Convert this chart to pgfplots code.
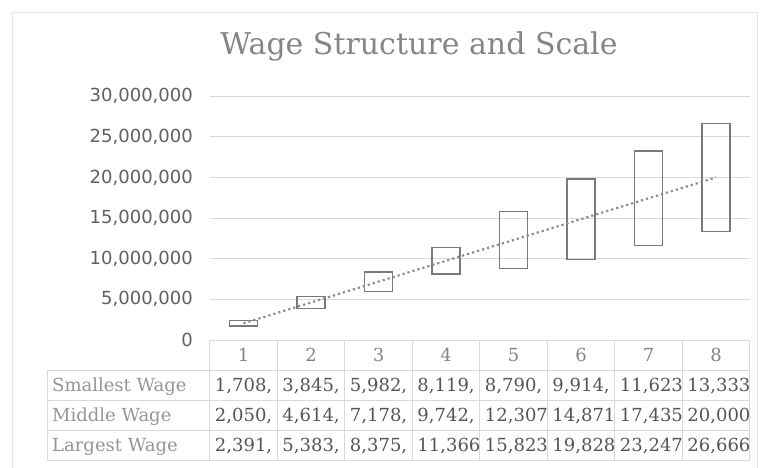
\documentclass[border=0pt]{standalone}
\usepackage{fontspec}
\setmainfont{DejaVu Serif}
\newfontfamily\ticksans{DejaVu Sans}
\usepackage{pgfplots}
\pgfplotsset{compat=1.18}
\usepgfplotslibrary{statistics}
\definecolor{gridgray}{HTML}{D9D9D9}
\definecolor{bargray}{HTML}{7A7A7A}
\definecolor{linegray}{HTML}{8C8C8C}
\definecolor{titlegray}{HTML}{858585}
\definecolor{ticktext}{HTML}{606060}
\definecolor{labelgray}{HTML}{959595}
\definecolor{valgray}{HTML}{555555}
\definecolor{bordergray}{HTML}{E6E6E6}
\begin{document}
\begin{tikzpicture}
% outer chart border
\draw[bordergray, line width=0.8pt] (12pt,0pt) -- (12pt,456pt) -- (757pt,456pt) -- (757pt,0pt);
% title
\node[anchor=base, inner sep=0pt, text=titlegray, font=\fontsize{30}{34}\selectfont] at (419pt,413pt) {Wage Structure and Scale};
% values in millions
\begin{axis}[
  at={(209.75pt,128pt)}, anchor=south west,
  scale only axis, width=540pt, height=243.8pt,
  xmin=0.5, xmax=8.5, ymin=0, ymax=30,
  xtick=\empty,
  ytick={0,5,10,15,20,25,30},
  yticklabels={{0},{5,000,000},{10,000,000},{15,000,000},{20,000,000},{25,000,000},{30,000,000}},
  ymajorgrids, grid style={color=gridgray, line width=0.8pt},
  axis line style={draw=none},
  major tick length=0pt,
  yticklabel style={font=\ticksans\fontsize{18}{20}\selectfont, text=ticktext, inner xsep=0pt, xshift=-16.75pt},
  boxplot/draw direction=y,
  boxplot/every whisker/.style={draw=none},
  boxplot/every median/.style={draw=none},
  clip=false,
]
\pgfplotsset{wagebox/.style={draw=bargray, line width=1.3pt, fill=none, solid, mark=none}}
\addplot[wagebox, boxplot prepared={draw position=1, lower whisker=1.708, lower quartile=1.708, median=1.708, upper quartile=2.391, upper whisker=2.391, box extend=0.415, whisker extend=0}] coordinates {};
\addplot[wagebox, boxplot prepared={draw position=2, lower whisker=3.845, lower quartile=3.845, median=3.845, upper quartile=5.383, upper whisker=5.383, box extend=0.415, whisker extend=0}] coordinates {};
\addplot[wagebox, boxplot prepared={draw position=3, lower whisker=5.982, lower quartile=5.982, median=5.982, upper quartile=8.375, upper whisker=8.375, box extend=0.415, whisker extend=0}] coordinates {};
\addplot[wagebox, boxplot prepared={draw position=4, lower whisker=8.119, lower quartile=8.119, median=8.119, upper quartile=11.366, upper whisker=11.366, box extend=0.415, whisker extend=0}] coordinates {};
\addplot[wagebox, boxplot prepared={draw position=5, lower whisker=8.790, lower quartile=8.790, median=8.790, upper quartile=15.823, upper whisker=15.823, box extend=0.415, whisker extend=0}] coordinates {};
\addplot[wagebox, boxplot prepared={draw position=6, lower whisker=9.914, lower quartile=9.914, median=9.914, upper quartile=19.828, upper whisker=19.828, box extend=0.415, whisker extend=0}] coordinates {};
\addplot[wagebox, boxplot prepared={draw position=7, lower whisker=11.623, lower quartile=11.623, median=11.623, upper quartile=23.247, upper whisker=23.247, box extend=0.415, whisker extend=0}] coordinates {};
\addplot[wagebox, boxplot prepared={draw position=8, lower whisker=13.333, lower quartile=13.333, median=13.333, upper quartile=26.666, upper whisker=26.666, box extend=0.415, whisker extend=0}] coordinates {};
% middle wage dotted line
\addplot[linegray, line width=2.2pt, dash pattern=on 2.2pt off 3pt, mark=none] coordinates {
  (1,2.050) (2,4.614) (3,7.178) (4,9.742) (5,12.307) (6,14.871) (7,17.435) (8,20.000)};
\end{axis}
% data table grid
\begin{scope}[gridgray, line width=0.8pt]
\foreach \k in {0,...,8} { \draw (209.75pt+\k*67.5pt,128pt) -- (209.75pt+\k*67.5pt,8pt); }
\draw (47pt,98pt) -- (47pt,8pt);
\foreach \yy in {98,68,38,8} { \draw (47pt,\yy pt) -- (749.75pt,\yy pt); }
\end{scope}
% category numbers
\begin{scope}[every node/.style={anchor=base, inner sep=0pt, text=titlegray, font=\fontsize{18}{20}\selectfont}]
\foreach \k in {1,...,8} { \node at (209.75pt+\k*67.5pt-33.75pt,106.5pt) {\k}; }
\end{scope}
% row labels
\begin{scope}[every node/.style={anchor=base west, inner sep=0pt, text=labelgray, font=\fontsize{18}{20}\selectfont}]
\node at (52pt,76.5pt) {Smallest Wage};
\node at (52pt,46.5pt) {Middle Wage};
\node at (52pt,16.5pt) {Largest Wage};
\end{scope}
% values
\begin{scope}[every node/.style={anchor=base west, inner sep=0pt, text=valgray, font=\fontsize{18}{20}\selectfont}]
\node at (214.75pt,76.5pt) {1,708,};
\node at (282.25pt,76.5pt) {3,845,};
\node at (349.75pt,76.5pt) {5,982,};
\node at (417.25pt,76.5pt) {8,119,};
\node at (484.75pt,76.5pt) {8,790,};
\node at (552.25pt,76.5pt) {9,914,};
\node at (619.75pt,76.5pt) {11,623};
\node at (687.25pt,76.5pt) {13,333};
\node at (214.75pt,46.5pt) {2,050,};
\node at (282.25pt,46.5pt) {4,614,};
\node at (349.75pt,46.5pt) {7,178,};
\node at (417.25pt,46.5pt) {9,742,};
\node at (484.75pt,46.5pt) {12,307};
\node at (552.25pt,46.5pt) {14,871};
\node at (619.75pt,46.5pt) {17,435};
\node at (687.25pt,46.5pt) {20,000};
\node at (214.75pt,16.5pt) {2,391,};
\node at (282.25pt,16.5pt) {5,383,};
\node at (349.75pt,16.5pt) {8,375,};
\node at (417.25pt,16.5pt) {11,366};
\node at (484.75pt,16.5pt) {15,823};
\node at (552.25pt,16.5pt) {19,828};
\node at (619.75pt,16.5pt) {23,247};
\node at (687.25pt,16.5pt) {26,666};
\end{scope}
\pgfresetboundingbox
\useasboundingbox (0pt,0pt) rectangle (760pt,468pt);
\end{tikzpicture}
\end{document}
